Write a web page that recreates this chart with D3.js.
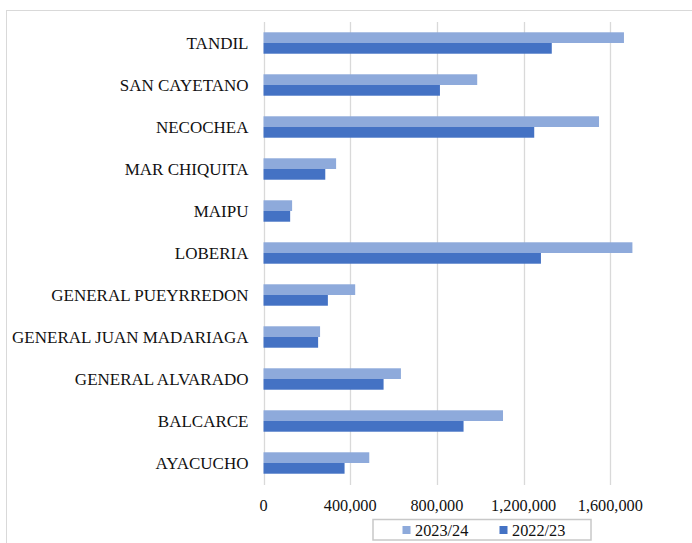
<!DOCTYPE html>
<html>
<head>
<meta charset="utf-8">
<script src="https://cdn.jsdelivr.net/npm/d3@7"></script>
<style>
  body { margin: 0; background: #fff; }
  svg text { font-family: "Liberation Serif", "Times New Roman", serif; fill: #111; }
</style>
</head>
<body>
<div id="container"></div>
<script>
// data, top to bottom as in the chart
const partidos = ['TANDIL', 'SAN CAYETANO', 'NECOCHEA', 'MAR CHIQUITA', 'MAIPU', 'LOBERIA',
  'GENERAL PUEYRREDON', 'GENERAL JUAN MADARIAGA', 'GENERAL ALVARADO', 'BALCARCE', 'AYACUCHO']
const serie2324 = [1663000, 986000, 1548000, 335000, 132000, 1702000, 423000, 261000, 634000, 1105000, 488000]
const serie2223 = [1330000, 814000, 1249000, 285000, 123000, 1280000, 297000, 252000, 554000, 923000, 374000]
const ticks = [0, 400000, 800000, 1200000, 1600000]
const seriesNames = ['2023/24', '2022/23']
const colors = ['#8eaadb', '#4472c4']

const W = 692, H = 543
const margin = { top: 22, right: 0, bottom: 59, left: 263.5 }

const svg = d3.select('#container')
  .append('svg')
  .attr('width', W)
  .attr('height', H)

// outer chart frame (runs past the picture edge on right/bottom)
svg.append('rect')
  .attr('x', 6.5).attr('y', 10.5)
  .attr('width', 720).attr('height', 560)
  .attr('fill', 'none')
  .attr('stroke', '#d9d9d9')

const xScale = d3.scaleLinear()
  .domain([0, 400000])
  .range([margin.left, margin.left + 86.7])

const yScale = d3.scaleBand()
  .domain(partidos)
  .range([margin.top, H - margin.bottom])
  .paddingInner(0.49)
  .paddingOuter(0.245)

// gridlines
svg.append('g')
  .selectAll('line')
  .data(ticks)
  .enter()
  .append('line')
  .attr('x1', d => Math.round(xScale(d)) + 0.5)
  .attr('x2', d => Math.round(xScale(d)) + 0.5)
  .attr('y1', margin.top)
  .attr('y2', H - margin.bottom + 1)
  .attr('stroke', '#d9d9d9')
  .attr('stroke-width', 1.3)

// x axis labels
const fmt = d3.format(',')
svg.append('g')
  .selectAll('text')
  .data(ticks)
  .enter()
  .append('text')
  .attr('x', d => xScale(d))
  .attr('y', 505)
  .attr('dy', '0.35em')
  .attr('text-anchor', 'middle')
  .attr('font-size', 16.3)
  .text(d => fmt(d))

// category labels
svg.append('g')
  .selectAll('text')
  .data(partidos)
  .enter()
  .append('text')
  .attr('x', 248.5)
  .attr('y', d => yScale(d) + yScale.bandwidth() / 2)
  .attr('dy', '0.35em')
  .attr('text-anchor', 'end')
  .attr('font-size', 17)
  .text(d => d)

// bars
const inner = d3.scaleBand()
  .domain(seriesNames)
  .range([0, yScale.bandwidth()])

const rows = partidos.map((p, i) => ({ p, vals: [serie2324[i], serie2223[i]] }))

svg.append('g')
  .selectAll('g')
  .data(rows)
  .enter()
  .append('g')
  .attr('transform', d => `translate(0, ${yScale(d.p)})`)
  .selectAll('rect')
  .data(d => d.vals.map((v, k) => ({ v, k })))
  .enter()
  .append('rect')
  .attr('x', xScale(0))
  .attr('y', d => inner(seriesNames[d.k]))
  .attr('width', d => xScale(d.v) - xScale(0))
  .attr('height', inner.bandwidth())
  .attr('fill', d => colors[d.k])

// legend
const legend = svg.append('g')
legend.append('rect')
  .attr('x', 373).attr('y', 519.5)
  .attr('width', 218).attr('height', 20.5)
  .attr('fill', '#fff')
  .attr('stroke', '#c8c8c8')
  .attr('stroke-width', 1.5)

const legendX = [402.5, 499.5]
seriesNames.forEach((s, i) => {
  legend.append('rect')
    .attr('x', legendX[i]).attr('y', 526)
    .attr('width', 8).attr('height', 8)
    .attr('fill', colors[i])
  legend.append('text')
    .attr('x', legendX[i] + 12.5)
    .attr('y', 530)
    .attr('dy', '0.35em')
    .attr('font-size', 16.3)
    .text(s)
})
</script>
</body>
</html>
